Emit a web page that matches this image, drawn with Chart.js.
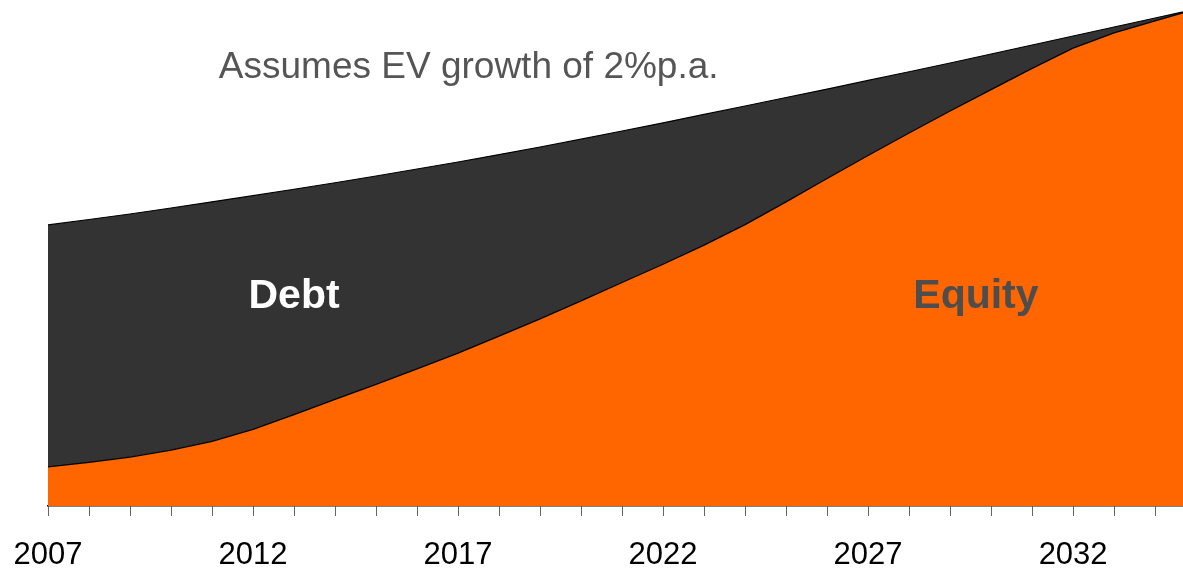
<!DOCTYPE html>
<html>
<head>
<meta charset="utf-8">
<script src="https://cdn.jsdelivr.net/npm/chart.js@4/dist/chart.umd.min.js"></script>
<style>
  html, body { margin: 0; padding: 0; background: #fff; overflow: hidden; }
  #wrap { width: 1183px; height: 569px; }
</style>
</head>
<body>
<div id="wrap"><canvas id="evChart"></canvas></div>
<script>
// years on the axis, labelled every fifth year
var years = [2007, 2008, 2009, 2010, 2011, 2012, 2013, 2014, 2015, 2016,
             2017, 2018, 2019, 2020, 2021, 2022, 2023, 2024, 2025, 2026,
             2027, 2028, 2029, 2030, 2031, 2032, 2033, 2034, 2035];

// EV split, indexed so that 2007 EV = 100
var equity = [13.9, 15.5, 17.4, 19.9, 23.0, 27.3, 32.5, 37.9, 43.3, 48.8,
              54.4, 60.4, 66.6, 73.0, 79.5, 86.0, 92.8, 100.1, 108.2, 116.5,
              124.7, 132.7, 140.5, 148.1, 155.7, 162.9, 168.3, 172.6, 176.8];
var debt   = [86.1, 86.4, 86.5, 86.1, 85.2, 83.1, 80.2, 77.1, 74.1, 71.1,
              68.0, 64.6, 61.1, 57.5, 53.9, 50.3, 46.5, 42.2, 37.1, 31.8,
              26.7, 21.8, 17.1, 12.7, 8.3, 4.3, 2.1, 1.0, 0.0];

var labelYears = [2007, 2012, 2017, 2022, 2027, 2032];

var FONT = 'Liberation Sans, Arial, Helvetica, sans-serif';

function pts(arr) {
  return years.map(function (y, i) { return { x: y, y: arr[i] }; });
}

// text written onto the areas
var notes = {
  id: 'notes',
  afterDatasetsDraw: function (chart) {
    var c = chart.ctx, x = chart.scales.x, y = chart.scales.y;
    c.save();
    c.textAlign = 'center';
    c.textBaseline = 'middle';
    c.font = '37px ' + FONT;
    c.fillStyle = '#555555';
    c.fillText('Assumes EV growth of 2%p.a.', x.getPixelForValue(2017.26), y.getPixelForValue(155.8));
    c.font = 'bold 41px ' + FONT;
    c.fillStyle = '#ffffff';
    c.fillText('Debt', x.getPixelForValue(2013.0), y.getPixelForValue(74.4));
    c.fillStyle = '#4d4d4d';
    c.fillText('Equity', x.getPixelForValue(2029.63), y.getPixelForValue(74.4));
    c.restore();
  }
};

var ctx = document.getElementById('evChart').getContext('2d');

var chart = new Chart(ctx, {
  type: 'line',
  data: {
    datasets: [{
      label: 'Equity',
      data: pts(equity),
      backgroundColor: '#ff6600',
      borderColor: '#000000',
      borderWidth: 1.3,
      fill: 'origin',
      pointRadius: 0,
      tension: 0
    }, {
      label: 'Debt',
      data: pts(debt),
      backgroundColor: '#333333',
      borderColor: '#000000',
      borderWidth: 1.1,
      fill: '-1',
      pointRadius: 0,
      tension: 0
    }]
  },
  plugins: [notes],
  options: {
    responsive: true,
    maintainAspectRatio: false,
    animation: false,
    layout: { padding: { left: 48, right: 0, top: 0, bottom: 0 } },
    plugins: {
      legend: { display: false },
      tooltip: { enabled: false }
    },
    scales: {
      x: {
        type: 'linear',
        min: 2007,
        max: 2034.68,
        afterBuildTicks: function (scale) {
          scale.ticks = years.map(function (v) { return { value: v }; });
        },
        afterFit: function (scale) {
          // the plot runs right up to the canvas edge
          scale.height = 63;
          scale.paddingLeft = 0;
          scale.paddingRight = 0;
        },
        border: { display: true, color: '#000000', width: 1.5 },
        grid: {
          drawOnChartArea: false,
          drawTicks: true,
          tickLength: 10,
          color: '#666666',
          lineWidth: 1
        },
        ticks: {
          autoSkip: false,
          maxRotation: 0,
          padding: 21,
          color: '#000000',
          font: { family: FONT, size: 31 },
          callback: function (v) {
            return labelYears.indexOf(v) >= 0 ? String(v) : '';
          }
        }
      },
      y: {
        display: false,
        stacked: true,
        min: 0,
        max: 180
      }
    }
  }
});
</script>
</body>
</html>
